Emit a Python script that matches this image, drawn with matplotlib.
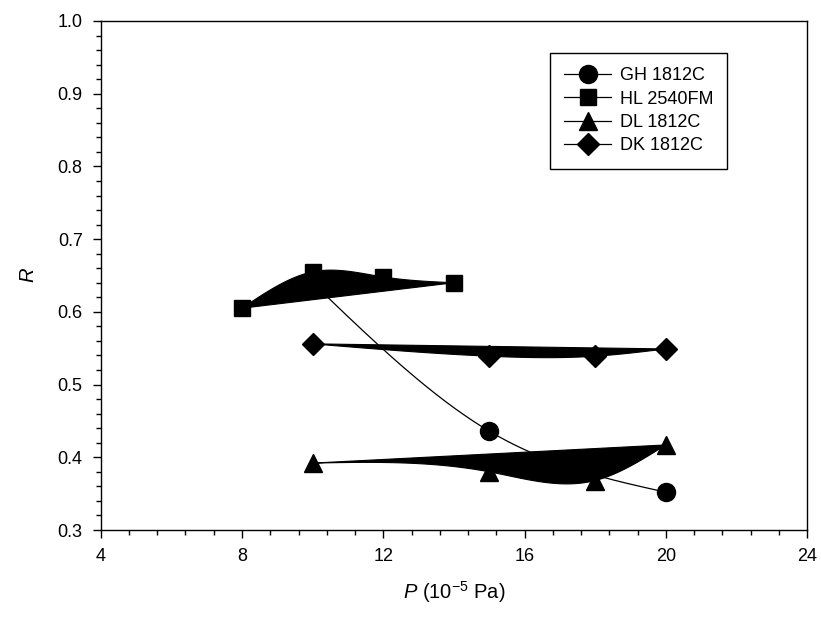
import numpy as np
import matplotlib
matplotlib.use("Agg")
import matplotlib.pyplot as plt
from matplotlib.ticker import MultipleLocator
from matplotlib.lines import Line2D

plt.rcParams['font.family'] = ['Liberation Sans', 'DejaVu Sans']
plt.rcParams['mathtext.fontset'] = 'custom'
plt.rcParams['mathtext.it'] = 'Liberation Sans:italic'
plt.rcParams['mathtext.rm'] = 'Liberation Sans'

# Data
gh_x = [10, 15, 20]
gh_y = [0.640, 0.436, 0.352]
hl_x = [8, 10, 12, 14]
hl_y = [0.605, 0.655, 0.648, 0.640]
dl_x = [10, 15, 18, 20]
dl_y = [0.392, 0.380, 0.368, 0.417]
dk_x = [10, 15, 18, 20]
dk_y = [0.556, 0.539, 0.539, 0.549]
labels = ["GH 1812C", "HL 2540FM", "DL 1812C", "DK 1812C"]


def natural_spline(x, y, n=300):
    x = np.asarray(x, float)
    y = np.asarray(y, float)
    k = len(x)
    h = np.diff(x)
    A = np.zeros((k, k))
    b = np.zeros(k)
    A[0, 0] = 1
    A[-1, -1] = 1
    for i in range(1, k - 1):
        A[i, i - 1] = h[i - 1]
        A[i, i] = 2 * (h[i - 1] + h[i])
        A[i, i + 1] = h[i]
        b[i] = 6 * ((y[i + 1] - y[i]) / h[i] - (y[i] - y[i - 1]) / h[i - 1])
    M = np.linalg.solve(A, b)
    xs = np.linspace(x[0], x[-1], n)
    idx = np.clip(np.searchsorted(x, xs) - 1, 0, k - 2)
    x0 = x[idx]; x1 = x[idx + 1]; hh = x1 - x0
    t0 = x1 - xs; t1 = xs - x0
    ys = (M[idx] * t0**3 / (6 * hh) + M[idx + 1] * t1**3 / (6 * hh)
          + (y[idx] / hh - M[idx] * hh / 6) * t0
          + (y[idx + 1] / hh - M[idx + 1] * hh / 6) * t1)
    return xs, ys


fig = plt.figure(figsize=(8.21, 6.17), dpi=100)
ax = fig.add_axes([0.1227, 0.141, 0.8603, 0.825])

# GH: thin spline line
sx, sy = natural_spline(gh_x, gh_y)
ax.plot(sx, sy, color='black', lw=0.9, zorder=2)

# Filled spline shapes
for xx, yy in [(hl_x, hl_y), (dl_x, dl_y), (dk_x, dk_y)]:
    sx, sy = natural_spline(xx, yy)
    ax.fill(sx, sy, color='black', lw=0.8, zorder=2)

ax.plot(gh_x, gh_y, 'o', color='black', ms=13, zorder=3)
ax.plot(hl_x, hl_y, 's', color='black', ms=12, zorder=3)
ax.plot(dl_x, dl_y, '^', color='black', ms=13.5, zorder=3)
ax.plot(dk_x, dk_y, 'D', color='black', ms=11, zorder=3)

ax.set_xlim(4, 24)
ax.set_ylim(0.3, 1.0)
ax.xaxis.set_major_locator(MultipleLocator(4))
ax.xaxis.set_minor_locator(MultipleLocator(0.8))
ax.yaxis.set_major_locator(MultipleLocator(0.1))
ax.yaxis.set_minor_locator(MultipleLocator(0.02))
ax.yaxis.set_major_formatter(matplotlib.ticker.FormatStrFormatter('%.1f'))
ax.tick_params(which='both', direction='out', top=False, right=False,
               labelsize=13, width=1, color='black')
ax.tick_params(which='major', length=6, pad=7)
ax.tick_params(which='minor', length=3.5)
for s in ax.spines.values():
    s.set_linewidth(1)

ax.set_xlabel(r'$P$ (10$^{-5}$ Pa)', fontsize=14.5, labelpad=10)
ax.set_ylabel(r'$R$', fontsize=14.5, labelpad=14)

handles = [
    Line2D([], [], color='black', lw=0.9, marker='o', ms=13),
    Line2D([], [], color='black', lw=0.9, marker='s', ms=12),
    Line2D([], [], color='black', lw=0.9, marker='^', ms=13.5),
    Line2D([], [], color='black', lw=0.9, marker='D', ms=11),
]
leg = ax.legend(handles, labels, loc='upper left',
                bbox_to_anchor=(550 / 821, 1 - 53 / 617),
                bbox_transform=fig.transFigure, fontsize=13,
                frameon=True, fancybox=False, edgecolor='black',
                handlelength=2.6, handletextpad=0.45, labelspacing=0.35,
                borderpad=0.8, borderaxespad=0)
leg.get_frame().set_linewidth(1)
leg.get_frame().set_alpha(1)

fig.savefig('out.png', dpi=100)
